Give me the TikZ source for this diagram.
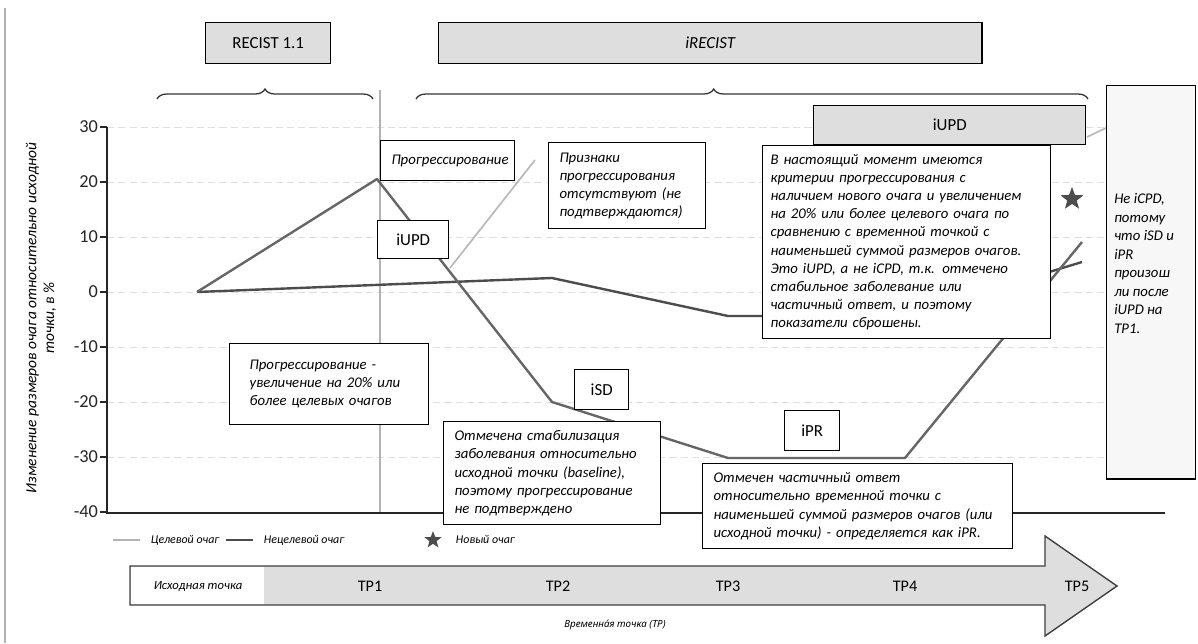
\documentclass[tikz,border=0pt]{standalone}
\usepackage{fontspec}
\setmainfont{Carlito}
\newfontfamily\notosans{Noto Sans}
\usetikzlibrary{shapes.geometric,decorations.pathreplacing}

\definecolor{boxgray}{gray}{0.87}
\definecolor{tgtline}{gray}{0.40}
\definecolor{ntgline}{gray}{0.30}

\begin{document}
\begin{tikzpicture}[x=0.025cm,y=-0.025cm,
    lbl/.style={draw=black,line width=1pt,fill=boxgray,inner sep=0pt,anchor=north west,
      font=\fontsize{12}{14}\selectfont},
    note/.style={draw=black,line width=1pt,fill=white,inner ysep=0pt,inner xsep=0.27cm,
      anchor=north west,align=left,font=\fontsize{10.5}{12.9}\selectfont\itshape},
    tgt/.style={draw=tgtline,line width=1.7pt,line join=round},
    ntg/.style={draw=ntgline,line width=1.7pt,line join=round},
    grid/.style={draw=gray!25,line width=0.4pt,dash pattern=on 5pt off 3pt},
    curly/.style={draw=black!80,line width=0.9pt,decorate,
      decoration={brace,amplitude=0.25cm}},
    callout/.style={draw=gray!55,line width=1.2pt},
    small/.style={font=\fontsize{8.5}{10}\selectfont\itshape}]

  % page
  \fill[white] (0,0) rectangle (1198,643);
  \draw[gray!60,line width=0.8pt] (5,8) -- (5,643);

  % grid and axes
  \foreach \v in {30,20,...,-30}
    \draw[grid] (107,{292-5.5*\v}) -- (1165,{292-5.5*\v});
  \draw[gray!60,line width=1.6pt] (380,90) -- (380,513);
  \draw[black!85,line width=1pt] (107,127) -- (107,513) -- (1165,513);
  \foreach \v in {30,20,...,-40}
    \draw[black!85,line width=1pt] (107,{292-5.5*\v}) -- (100,{292-5.5*\v})
      node[anchor=east,inner sep=1pt,font=\fontsize{13}{15}\selectfont] (tick\v) {\v};

  \node[rotate=90,align=center,font=\fontsize{11}{12.5}\selectfont\itshape] (ytitle) at (41,318)
    {Изменение размеров очага относительно исходной\\точки, в \%};

  % lesions
  \draw[ntg] (197,292) -- (552,278) -- (728,316) -- (905,316) -- (1082,262);
  \draw[tgt] (197,292) -- (377,179) -- (552,402) -- (728,458) -- (905,458) -- (1082,242);

  \coordinate (pzlow) at (450,268);
  \coordinate (pzhigh) at (535,160);
  \draw[callout] (pzlow) -- (pzhigh);
  \coordinate (rblow) at (1087,137);
  \coordinate (rbhigh) at (1106,128);
  \draw[callout] (rblow) -- (rbhigh);

  % headings
  \node[lbl,minimum width=3.125cm,minimum height=1.025cm] (recist) at (205,22) {RECIST 1.1};
  \node[lbl,minimum width=13.575cm,minimum height=1.025cm] (irecist) at (438,22) {\itshape iRECIST};
  \draw[curly] (157,99) -- (373,99);
  \draw[curly,decoration={aspect=0.443}] (416,99) -- (1088,99);

  % boxes
  \node[note,text width=2.8cm,minimum height=1cm] (prog) at (380,140) {Прогрессирование};
  \node[note,text width=3.375cm,minimum height=2.15cm] (nopd) at (548,142)
    {Признаки\\прогрессирования\\отсутствуют (не\\подтверждаются)};
  \node[lbl,fill=white,minimum width=1.775cm,minimum height=0.95cm] (iupdA) at (377,220) {iUPD};
  \node[lbl,minimum width=6.8cm,minimum height=0.975cm] (iupdB) at (813,105) {iUPD};
  \node[note,inner xsep=0.2cm,text width=6.8cm,minimum height=4.825cm] (nowpd) at (762,145)
    {В настоящий момент имеются\\критерии прогрессирования с\\наличием нового очага и увеличением\\
     на 20\% или более целевого очага по\\сравнению с временной точкой с\\
     наименьшей суммой размеров очагов.\\Это iUPD, а не iCPD, т.к. отмечено\\
     стабильное заболевание или\\частичный ответ, и поэтому\\показатели сброшены.};
  \node[lbl,fill=gray!6,minimum width=2.225cm,minimum height=9.825cm] (right) at (1106,85) {};
  \node[anchor=north west,align=left,inner sep=0pt,font=\fontsize{10.5}{13.2}\selectfont\itshape]
    (righttext) at (1114,193) {Не iCPD,\\потому\\что iSD и\\iPR\\произош\\ли после\\iUPD на\\TP1.};
  \node[star,star points=5,star point ratio=2.4,fill=black!70,inner sep=0pt,minimum size=0.6cm]
    (newles) at (1072,199) {};

  \node[note,inner xsep=0.5cm,text width=3.975cm,minimum height=2.025cm] (progdef) at (229,343)
    {Прогрессирование -\\увеличение на 20\% или\\более целевых очагов};
  \node[lbl,fill=white,minimum width=1.35cm,minimum height=1cm] (isd) at (574,369) {iSD};
  \node[note,text width=4.885cm,minimum height=2.575cm] (stab) at (443,421)
    {Отмечена стабилизация\\заболевания относительно\\исходной точки (baseline),\\поэтому прогрессирование\\не подтверждено};
  \node[lbl,fill=white,minimum width=1.375cm,minimum height=1cm] (ipr) at (784,410) {iPR};
  \node[note,text width=7.21cm,minimum height=2.125cm] (partial) at (702,463)
    {Отмечен частичный ответ\\относительно временной точки с\\наименьшей суммой размеров очагов (или\\исходной точки) - определяется как iPR.};

  % legend
  \draw[draw=gray!60,line width=1.7pt] (113,540) -- (140,540);
  \node[small,anchor=west] (legtgt) at (146,540) {Целевой очаг};
  \draw[draw=ntgline,line width=1.7pt] (226,540) -- (253,540);
  \node[small,anchor=west] (legntg) at (259,540) {Нецелевой очаг};
  \node[star,star points=5,star point ratio=2.4,fill=black!70,inner sep=0pt,minimum size=0.45cm]
    (legstar) at (433,540) {};
  \node[small,anchor=west] (legnew) at (451,540) {Новый очаг};

  % time axis
  \filldraw[fill=boxgray,draw=black!75,line width=1pt] (130,566) -- (1045,566) -- (1045,536) --
    (1117,586) -- (1045,636) -- (1045,605) -- (130,605) -- cycle;
  \fill[white] (131,567) rectangle (264,604);
  \node[small,font=\fontsize{9}{10}\selectfont\itshape] (base) at (198,586) {Исходная точка};
  \foreach \x/\t in {370/TP1,558/TP2,728/TP3,905/TP4,1077/TP5}
    \node[font=\fontsize{11.5}{13}\selectfont] (\t) at (\x,586) {\t};
  \node[font=\fontsize{7}{9}\selectfont\notosans\itshape] (taxis) at (615,625) {Временна́я точка (TP)};
\end{tikzpicture}
\end{document}
